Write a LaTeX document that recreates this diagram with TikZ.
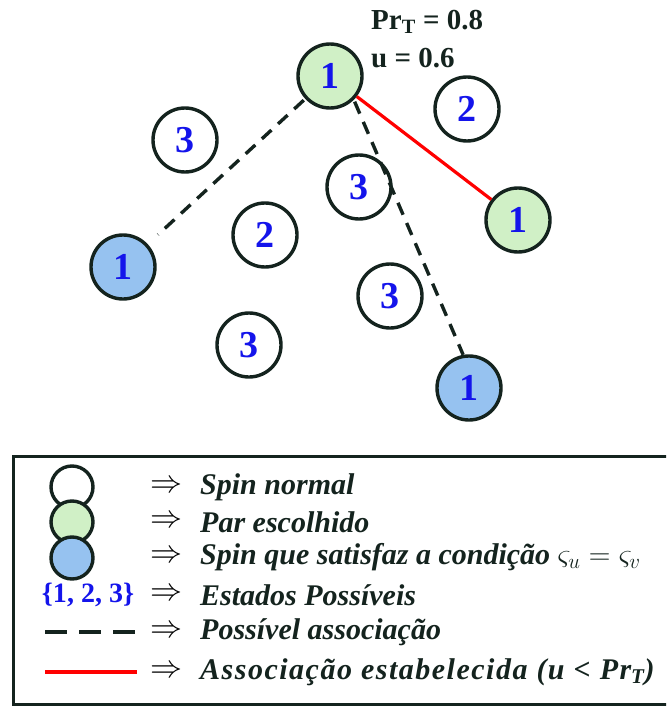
\RequirePackage{fix-cm}
\documentclass[tikz,border=0pt]{standalone}
\usepackage{fontspec}
\setmainfont{Liberation Serif}
\definecolor{spingreen}{RGB}{208,240,198}
\definecolor{spinblue}{RGB}{150,194,240}
\definecolor{numblue}{RGB}{20,20,235}
\definecolor{edge}{RGB}{20,35,30}
\begin{document}
\begin{tikzpicture}[x=1pt,y=-1pt,
  spin/.style={circle,draw=edge,line width=3.4pt,minimum size=64pt,inner sep=0pt,
    font=\fontsize{38}{38}\selectfont\bfseries,text=numblue,fill=white},
  pair/.style={spin,fill=spingreen},
  cond/.style={spin,fill=spinblue},
  lspin/.style={circle,draw=edge,line width=3.4pt,minimum width=40pt,minimum height=42pt,inner sep=0pt,fill=white},
  dline/.style={draw=edge,line width=3.4pt,dash pattern=on 13pt off 9pt},
  rline/.style={draw=red,line width=3.2pt},
  ltext/.style={anchor=west,font=\fontsize{30}{30}\selectfont\bfseries\itshape,text=edge,inner sep=0pt},
  larrow/.style={font=\fontsize{32}{32}\selectfont,inner sep=0pt}
]
\useasboundingbox (0,0) rectangle (666,706);
\clip (0,0) rectangle (666,706);

% spins
\node[pair] (g1) at (330,76) {1};
\node[spin] (s2a) at (467,109) {2};
\node[spin] (s3a) at (185,140) {3};
\node[spin] (s3b) at (359,187) {3};
\node[pair] (g2) at (518,220) {1};
\node[spin] (s2b) at (265,235) {2};
\node[cond] (b1) at (123,267) {1};
\node[spin] (s3c) at (390,296) {3};
\node[spin] (s3d) at (249,345) {3};
\node[cond] (b2) at (469,388) {1};

% connectors
\draw[dline,shorten <=2pt,shorten >=14pt] (g1) -- (b1);
\draw[dline,shorten <=2pt] (g1.-45) -- (b2.100);
\draw[rline] (g1) -- (g2);

% parameters
\node[anchor=west,inner sep=0pt,font=\fontsize{29}{29}\selectfont\bfseries,text=edge] (prt) at (371,22) {Pr\textsubscript{T} = 0.8};
\node[anchor=west,inner sep=0pt,font=\fontsize{29}{29}\selectfont\bfseries,text=edge] (uval) at (371,58) {u = 0.6};

% legend
\node[draw=edge,line width=3.4pt,minimum width=700pt,minimum height=248pt,anchor=north west,inner sep=0pt] (legend) at (12,455) {};
\node[lspin] (l1) at (72,487) {};
\node[lspin,fill=spingreen] (l2) at (72,522) {};
\node[lspin,fill=spinblue] (l3) at (72,558) {};
\node[anchor=center,inner sep=0pt,text=numblue,font=\fontsize{28}{28}\selectfont\bfseries] (l4) at (88,595) {\{1, 2, 3\}};
\coordinate (d1) at (45,632); \coordinate (d2) at (137,632);
\draw[dline,dash pattern=on 22pt off 12pt] (d1) -- (d2);
\coordinate (r1) at (45,672); \coordinate (r2) at (137,672);
\draw[rline,line width=3.6pt] (r1) -- (r2);

\foreach \y/\n in {487/a1,522/a2,557/a3,595/a4,632/a5,672/a6}{
  \node[larrow] (\n) at (166,\y) {$\Rightarrow$};
}
\node[ltext] (t1) at (200,487) {Spin normal};
\node[ltext] (t2) at (200,522) {Par escolhido};
\node[ltext] (t3) at (200,557) {Spin que satisfaz a condição {\normalfont\upshape\fontsize{30}{30}\selectfont$\varsigma_u = \varsigma_v$}};
\node[ltext] (t4) at (200,595) {Estados Possíveis};
\node[ltext] (t5) at (200,632) {Possível associação};
\node[ltext] (t6) at (200,672) {\addfontfeatures{LetterSpace=5}Associação estabelecida (u < Pr\textsubscript{T})};
\end{tikzpicture}
\end{document}
